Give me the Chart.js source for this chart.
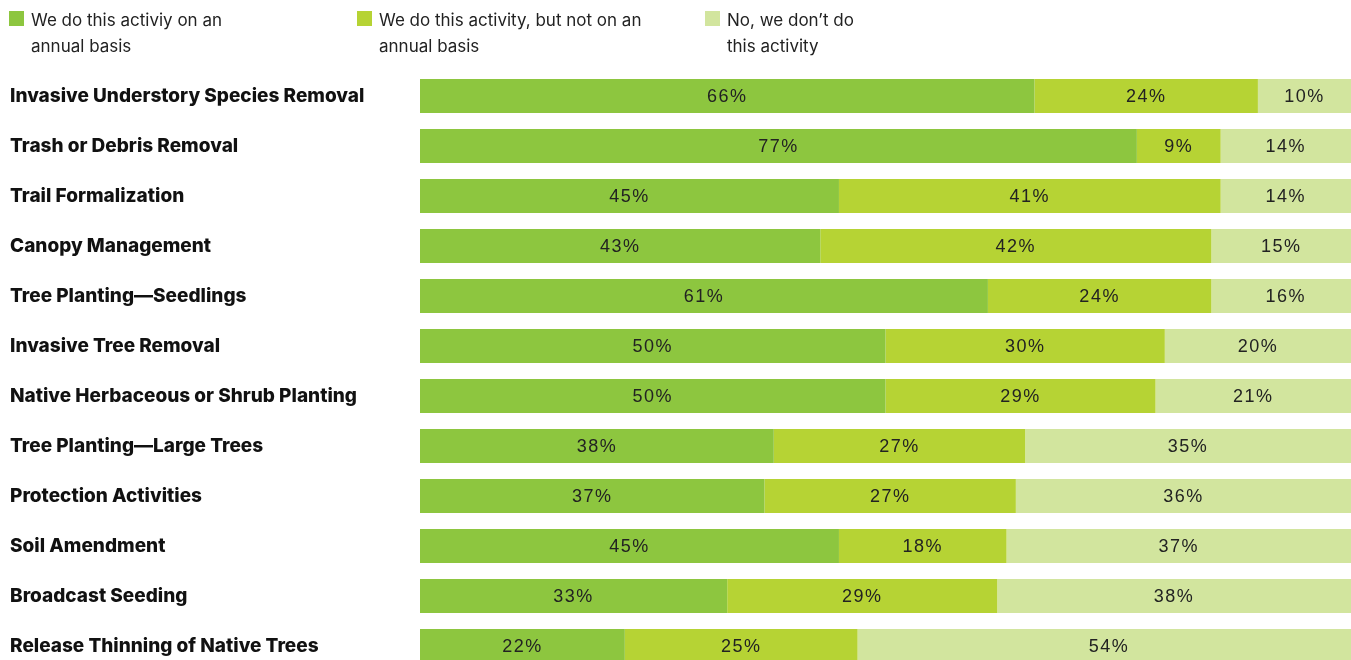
<!DOCTYPE html>
<html>
<head>
<meta charset="utf-8">
<script src="https://cdn.jsdelivr.net/npm/chart.js@4.4.0/dist/chart.umd.min.js"></script>
<style>
  html, body { margin: 0; padding: 0; background: #fff; overflow: hidden; width: 1351px; height: 660px; }
  #legend { position: absolute; top: 0; left: 0; width: 1351px; height: 60px; font-family: Inter, "Liberation Sans", Arial, sans-serif; font-size: 17px; color: #222; z-index: 2; }
  .item { position: absolute; top: 7px; line-height: 26px; }
  .item i { position: absolute; left: -22px; top: 4px; width: 15px; height: 15px; }
  #wrap { position: absolute; top: 0; left: 0; width: 1351px; height: 700px; }
</style>
</head>
<body>
<div id="legend"></div>
<div id="wrap"><canvas id="chart"></canvas></div>
<script>
const categories = [
    'Invasive Understory Species Removal',
    'Trash or Debris Removal',
    'Trail Formalization',
    'Canopy Management',
    'Tree Planting\u2014Seedlings',
    'Invasive Tree Removal',
    'Native Herbaceous or Shrub Planting',
    'Tree Planting\u2014Large Trees',
    'Protection Activities',
    'Soil Amendment',
    'Broadcast Seeding',
    'Release Thinning of Native Trees'
];
const annual = [66, 77, 45, 43, 61, 50, 50, 38, 37, 45, 33, 22];
const notAnnual = [24, 9, 41, 42, 24, 30, 29, 27, 27, 18, 29, 25];
const notDone = [10, 14, 14, 15, 16, 20, 21, 35, 36, 37, 38, 54];
const seriesNames = [
    ['We do this activiy on an', 'annual basis'],
    ['We do this activity, but not on an', 'annual basis'],
    ['No, we don\u2019t do', 'this activity']
];
const colors = ['#8dc63f', '#b6d334', '#d2e59e'];
const legendX = [31, 379, 727];

const legend = document.getElementById('legend');
seriesNames.forEach((lines, i) => {
    const d = document.createElement('div');
    d.className = 'item';
    d.style.left = legendX[i] + 'px';
    d.innerHTML = `<i style="background:${colors[i]}"></i>${lines.join('<br>')}`;
    legend.appendChild(d);
});

const barLabels = {
    id: 'barLabels',
    afterDatasetsDraw(chart) {
        const ctx = chart.ctx;
        ctx.save();
        ctx.font = '18px "Liberation Sans", Arial, sans-serif';
        ctx.letterSpacing = '1.5px';
        ctx.fillStyle = '#222';
        ctx.textAlign = 'center';
        ctx.textBaseline = 'middle';
        chart.data.datasets.forEach((ds, i) => {
            chart.getDatasetMeta(i).data.forEach((bar, j) => {
                const cx = (bar.x + bar.base) / 2;
                ctx.fillText(ds.data[j] + '%', cx, bar.y + 1);
            });
        });
        ctx.restore();
    }
};

const datasets = [annual, notAnnual, notDone].map((data, i) => ({
    label: seriesNames[i].join(' '),
    data,
    backgroundColor: colors[i],
    borderWidth: 0,
    barPercentage: 0.68,
    categoryPercentage: 1
}));

new Chart(document.getElementById('chart'), {
    type: 'bar',
    data: { labels: categories, datasets },
    options: {
        indexAxis: 'y',
        responsive: true,
        maintainAspectRatio: false,
        animation: false,
        layout: { padding: { left: 10, top: 71, right: 0, bottom: 29 } },
        plugins: { legend: { display: false }, tooltip: { enabled: false } },
        scales: {
            x: { stacked: true, min: 0, max: 100, display: false },
            y: {
                stacked: true,
                grid: { display: false },
                border: { display: false },
                afterFit: s => { s.width = 410; },
                ticks: {
                    crossAlign: 'far',
                    padding: 0,
                    color: '#111',
                    font: { family: 'Inter, "Liberation Sans", Arial, sans-serif', size: 19, weight: 800 }
                }
            }
        }
    },
    plugins: [barLabels]
});
</script>
</body>
</html>
